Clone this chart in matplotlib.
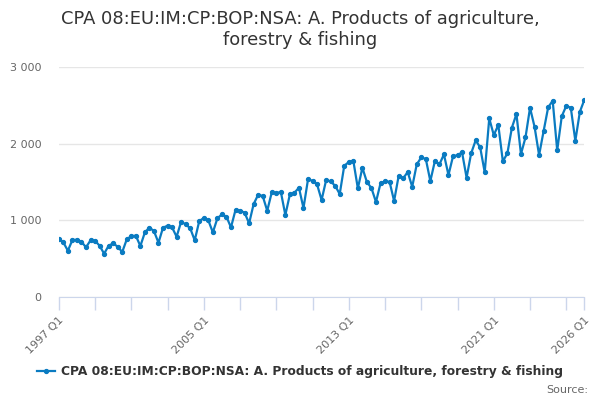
import matplotlib
matplotlib.use("Agg")
import matplotlib.pyplot as plt
import numpy as np

# quarterly values, 1997 Q1 .. 2026 Q1
values = [
    756, 713, 604, 743, 747, 721, 648, 739, 734, 669,
    565, 669, 700, 656, 587, 752, 795, 799, 665, 843,
    906, 860, 708, 904, 930, 908, 786, 982, 948, 896,
    739, 991, 1030, 1000, 843, 1026, 1078, 1047, 908, 1136,
    1128, 1100, 961, 1212, 1334, 1317, 1125, 1365, 1352, 1373,
    1069, 1339, 1360, 1425, 1160, 1534, 1516, 1469, 1265, 1525,
    1508, 1450, 1343, 1712, 1760, 1777, 1417, 1686, 1499, 1421,
    1239, 1482, 1508, 1503, 1252, 1578, 1547, 1630, 1438, 1730,
    1821, 1800, 1512, 1773, 1730, 1860, 1591, 1834, 1851, 1886,
    1556, 1873, 2043, 1952, 1626, 2330, 2112, 2243, 1770, 1873,
    2210, 2386, 1864, 2082, 2468, 2220, 1851, 2164, 2473, 2560,
    1913, 2356, 2494, 2468, 2038, 2416, 2573,
]
start_year = 1997
label_years = [1997, 2005, 2013, 2021, 2026]
series_name = "CPA 08:EU:IM:CP:BOP:NSA: A. Products of agriculture, forestry & fishing"
title = "CPA 08:EU:IM:CP:BOP:NSA: A. Products of agriculture,\nforestry & fishing"

x = np.arange(len(values))
blue = "#0a7bc1"
axis_col = "#ccd6eb"

fig = plt.figure(figsize=(6, 4), dpi=100)
ax = fig.add_axes([0.098, 0.2575, 0.876, 0.575])

ax.plot(x, values, color=blue, lw=1.6, marker="o", ms=2.8, label=series_name)

ax.set_xlim(0, len(values) - 1)
ax.set_ylim(0, 3000)
ax.set_yticks([0, 1000, 2000, 3000])
ax.set_yticklabels(["0", "1 000", "2 000", "3 000"])
ax.grid(axis="y", color="#e6e6e6", lw=1)
ax.set_axisbelow(True)

ticks = list(range(0, len(values), 8)) + [len(values) - 1]
labels = []
for t in ticks:
    yr = start_year + t // 4
    labels.append(f"{yr} Q{t % 4 + 1}" if yr in label_years else "")
ax.set_xticks(ticks)
ax.set_xticklabels(labels, rotation=45, ha="right", rotation_mode="anchor")

for s in ["top", "right", "left"]:
    ax.spines[s].set_visible(False)
ax.spines["bottom"].set_color(axis_col)
ax.tick_params(axis="x", colors=axis_col, length=9, width=1, labelcolor="#666666",
               labelsize=8, pad=4)
ax.tick_params(axis="y", length=0, labelcolor="#666666", labelsize=8, pad=12.5)

fig.text(0.5, 0.975, title, ha="center", va="top", fontsize=12.9, color="#333333",
         linespacing=1.2)

leg = fig.legend(loc="center", bbox_to_anchor=(0.5, 0.07), frameon=False,
                 prop={"weight": "bold", "size": 8.8}, handlelength=1.4,
                 handletextpad=0.5, labelcolor="#333333")

fig.text(0.98, 0.025, "Source:", ha="right", va="center", fontsize=8, color="#666666")

fig.savefig("out.png", dpi=100)
